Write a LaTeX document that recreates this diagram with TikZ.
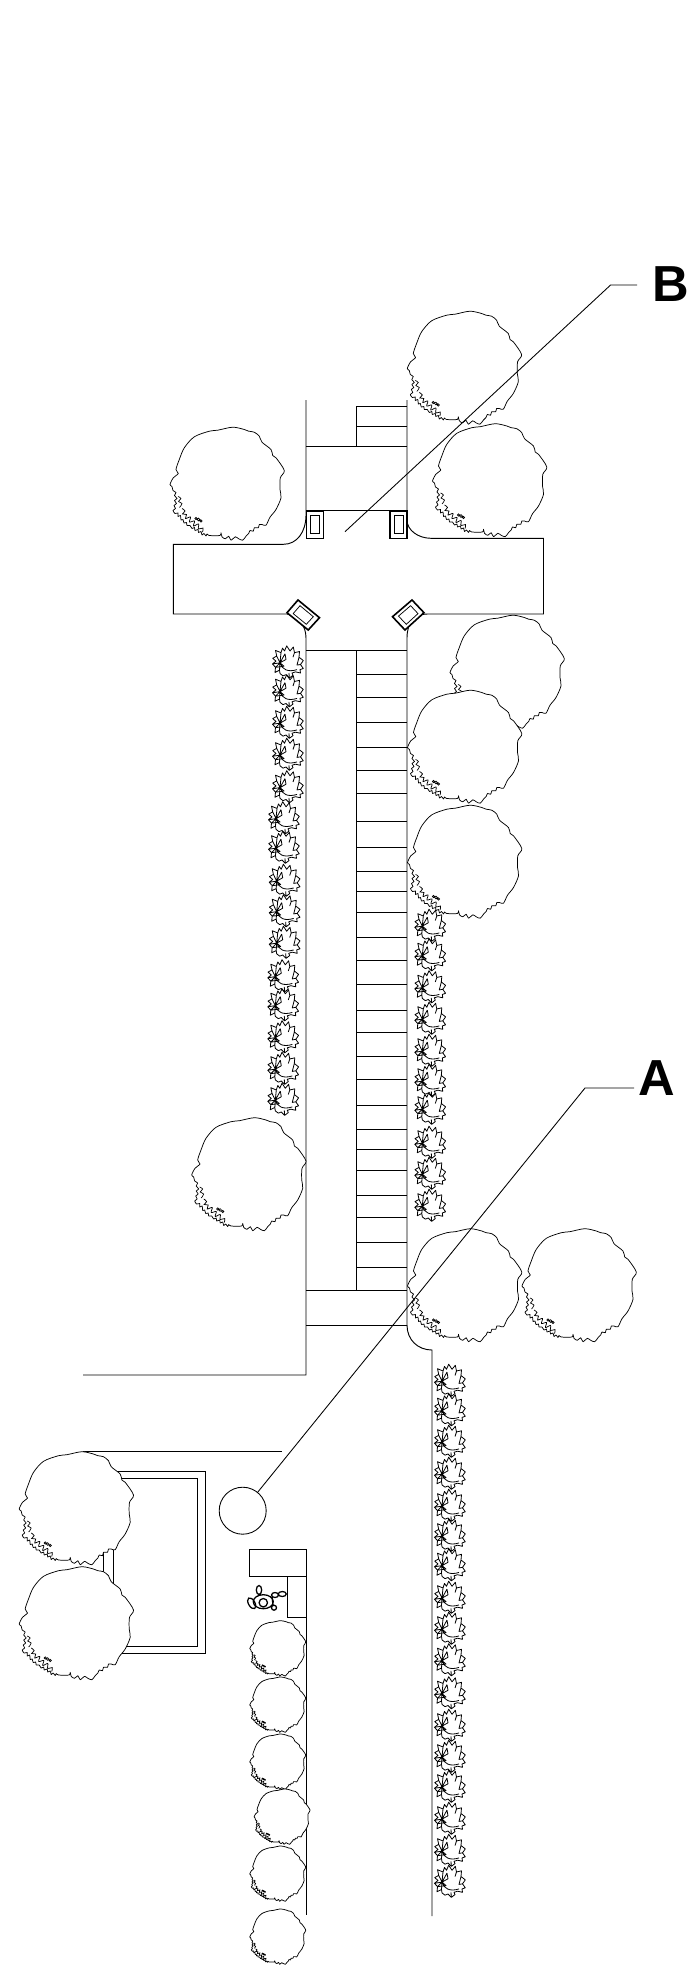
\documentclass[tikz,border=0pt]{standalone}
\usepackage{fontspec}
\setmainfont{Liberation Sans}
\tikzset{
  ln/.style={line width=0.7pt,black},
  potline/.style={line width=1.2pt,black},
  potin/.style={line width=0.55pt,black},
  leaderline/.style={line width=0.65pt,black},
  callout/.style={font=\fontsize{38}{40}\selectfont\bfseries,inner sep=0pt},
  bigtree/.pic={
    \draw[line width=0.55pt,fill=white,line join=round] plot[smooth cycle,tension=0.5] coordinates{
      (5.7,-57.3)(17.3,-55)(21.7,-53.3)(27.3,-52.3)(32.3,-48.3)(35,-42.3)(44,-35)(45.7,-29)(49,-26.7)(57.3,-14)
      (53.3,-6.7)(53,5)(54,13.3)(49,25)(43,32.7)(39,40.7)(35,40)(32.3,40)(31.3,43.3)(27.3,43.3)(26.3,46.7)(23,46)
      (21.7,49)(19,51.7)(15.7,55.7)(11.7,54.3)(8.3,52.3)(4,55.7)(1.7,51.7)(-1.7,54.3)(-5,52.3)(-6,48.3)(-7,51)
      (-17.7,51)(-20,49.5)(-21,51.5)(-23,49)(-25,50.5)(-26,47)(-28.5,48)(-29,45)(-32,46)(-32.5,43)(-35,44)(-37,41)(-40,41)(-40.5,38)(-43,38.5)(-44,35)(-46,35.5)(-46.5,31)(-49,32)(-49,28.5)(-52,29)(-54,26)(-51.5,24)(-53,21)(-50.5,19)(-52.5,16)(-50,14)(-52.5,11)(-51,8)(-54,6)(-55,2)
      (-57,0)(-53.7,-6.7)(-48.7,-11)
      (-51,-15)(-47.7,-25)(-42.7,-36.7)(-32.7,-47.7)(-17.7,-53.3)(-9.3,-54.3)};
    \draw[line width=0.55pt] plot[smooth,tension=0.6] coordinates{(-45,24)(-42,26.5)(-44.5,29.5)(-40.5,30)(-41.5,34)(-36.5,32.5)(-37.5,37.5)(-32.5,36.5)(-33.5,41.5)(-28.5,39.5)(-28.5,44.5)(-24,43.5)(-24.5,47.5)};
    \draw[line width=0.5pt] plot[smooth,tension=0.6] coordinates{(-49,12)(-46,14)(-48.5,17)(-45,19)(-47.5,23)};
    \draw[line width=0.5pt] (-31,34) circle (1.1) (-28.5,35) circle (1.3) (-26,36.5) circle (1.1);
  },
  shrub/.pic={
    \draw[line width=0.6pt,line join=round,yscale=1.13] (-1.3,-14)--(2,-9.5)--(5.3,-13)--(6.5,-8)--(11.5,-9)--(11,-4)--(15.3,-1)--(12.5,2.5)--(15.3,6)--(12,7)--(12.5,10)
      --(7.5,9)--(4,10)--(5,12)--(1.3,14.5)--(-2,11.5)--(-5,12.5)--(-8,10.5)--(-8.5,7.5)--(-13,9.5)--(-12.5,5)--(-15.5,2)--(-12,-0.5)--(-15.3,-3)
      --(-11.3,-5)--(-12.5,-10)--(-7,-8)--(-5.5,-12)--(-3.5,-9.5)--cycle
      (-8,1)--(-3,-7) (-8,1)--(-7,-8) (-8,1)--(-11.3,-5) (-8,1)--(-15.5,2) (-8,1)--(-12.5,5) (-8,1)--(-8.5,7.5)
      (-3,-7)--(-2,-2)--(-8,1) (-12.5,5)--(-4,4)--(-8,1)
      (-8,1)..controls (-6,7) and (0,9.5)..(9,7) (11,-4)--(9,3)--(12.5,2.5) (1.3,14.5)--(1,10) (6.5,-8)--(5,-4);
  }
}
\begin{document}
\begin{tikzpicture}[x=0.75pt,y=-0.75pt]
\useasboundingbox (0,0) rectangle (687,1965);
% road and plaza edges
\draw[ln] (306,400)--(306,515) .. controls (306,532) and (297,544.3) .. (283.5,544.3) -- (173.3,544.3)--(173.3,614)--(287,614)
  .. controls (298,616) and (306,625) .. (306,638) -- (306,1375) -- (83,1375);
\draw[ln] (407,400)--(407,520) .. controls (407,530) and (418,538.3) .. (431,538.3) -- (543.5,538.3)--(543.5,614)--(427.4,614)
  .. controls (415,614) and (407,622) .. (407,638) -- (407,1325) .. controls (407,1340) and (418,1350) .. (432,1350) -- (432,1916);
% top steps
\draw[ln] (356.7,446.7)--(356.7,406.7)--(407,406.7) (356.7,426.7)--(407,426.7) (306,446.7)--(407,446.7) (306,510.7)--(407,510.7);
% long steps
\draw[ln] (306,650)--(407,650) (356.7,650)--(356.7,1290) (306,1290)--(407,1290) (306,1325)--(407,1325);
\foreach \yy in {674.7,697.7,722,747.3,770,793.3,821.7,847.7,871.7,891.3,912.3,937.3,960,984.3,1010.3,1032.3,1056.3,1079.3,1105.3,1129.3,1149,1170.3,1195,1217.7,1242.3,1267.7}
  \draw[ln] (356.7,\yy)--(407,\yy);
% pots
\draw[potline,fill=white] (306.5,510.7) rectangle (323.6,538.3);
\draw[potin] (310.3,515) rectangle (319.5,533);
\draw[potline,fill=white] (389.7,510.7) rectangle (407,538.3);
\draw[potin] (394.5,515) rectangle (403.4,533);
\draw[potline,fill=white] (298,600)--(319.5,617.7)--(308.2,630)--(287,612.7)--cycle;
\draw[potin] (300,605.7)--(313.3,616.7)--(306.3,624.3)--(293.2,613.6)--cycle;
\draw[potline,fill=white] (412,600)--(424,612.7)--(405,630)--(392.5,616.7)--cycle;
\draw[potin] (410.6,605.7)--(418,613.6)--(406.3,624.3)--(398.5,616.1)--cycle;
% lower area
\draw[ln] (83,1451)--(282,1451);
\draw[ln] (103.5,1471) rectangle (205,1653);
\draw[ln] (113,1478.3) rectangle (197.3,1646.7);
\draw[ln] (249.7,1549) rectangle (306.3,1576.7);
\draw[ln] (287,1576.7) rectangle (306.3,1617.3);
\draw[ln] (306.3,1617.3)--(306.3,1915);
% figure
\draw[line width=0.95pt] (259,1590) ellipse [x radius=2.7,y radius=4.5]
  (263.3,1601.7) ellipse [x radius=10,y radius=7]
  (263.3,1602.7) circle (4.2)
  (275,1595) ellipse [x radius=3.5,y radius=2.5]
  (282.3,1594) ellipse [x radius=4,y radius=2.5]
  (274,1607.7) circle (2.5)
  (272,1597)--(273,1605);
\draw[line width=0.95pt,rotate around={30:(251.7,1603.3)}] (251.7,1603.3) ellipse [x radius=3.2,y radius=6];
% large trees
\foreach \tx/\ty in {227/484.5,464.3/368.5,489.5/481,507/672.5,464.5/747.5,464.5/862.5,248.7/1175,464.5/1286,579/1286,76.2/1509,76.2/1624}
  \pic at (\tx,\ty) {bigtree};
% small trees
\foreach \tx/\ty in {277.7/1648.7,277.7/1705,277.7/1762,282/1817,277.7/1874,277.7/1937}
  \pic[scale=0.49] at (\tx,\ty) {bigtree};
% shrubs
\foreach \sx/\sy in {288/661.7,288/690.5,288/722,288/754,288/786.5,284/817.5,284/847,284.7/880,284.7/910.5,284.7/942,283.3/975.5,283.3/1004.5,283.3/1036.5,283.3/1068,283.3/1099}
  \pic at (\sx,\sy) {shrub};
\foreach \sy in {925,954.5,986.5,1018,1050,1080,1108,1142,1173,1205}
  \pic at (430.3,\sy) {shrub};
\foreach \sy in {1380,1409.5,1441,1473,1505,1535,1564.5,1597,1628,1659.5,1692.5,1725,1756,1786,1818,1850,1881}
  \pic at (450,\sy) {shrub};
% callouts
\node[draw,line width=0.65pt,circle,minimum size=35.25pt,inner sep=0pt,fill=white] (circ) at (242.7,1510.7) {};
\coordinate (aelbow) at (585,1088);
\coordinate (aend) at (634,1088);
\coordinate (bfoot) at (345,531.7);
\coordinate (belbow) at (610.6,285);
\coordinate (bend) at (637,285);
\draw[leaderline] (circ)--(aelbow)--(aend);
\draw[leaderline] (bfoot)--(belbow)--(bend);
\node[callout] (labA) at (656.5,1078) {A};
\node[callout] (labB) at (671,284) {B};
\end{tikzpicture}
\end{document}
